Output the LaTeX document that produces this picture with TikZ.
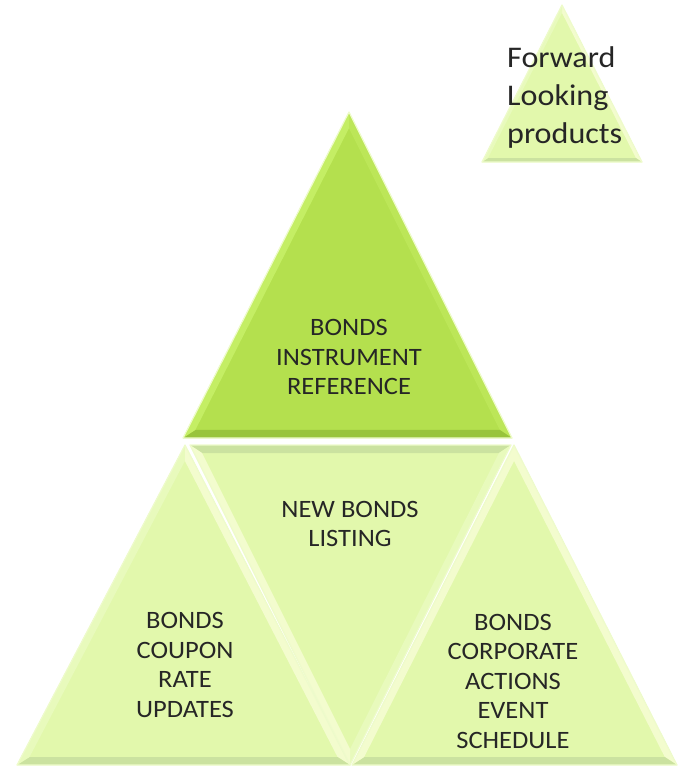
\documentclass[tikz,border=0pt]{standalone}
\usepackage{fontspec}
\setmainfont{Carlito}
\usetikzlibrary{calc}
\definecolor{txt}{HTML}{262626}
\definecolor{topbase}{HTML}{B4E04E}
\definecolor{topL}{HTML}{C4EE64}
\definecolor{topR}{HTML}{BCE658}
\definecolor{topB}{HTML}{98C43C}
\definecolor{lbase}{HTML}{E2F8AC}
\definecolor{lightF}{HTML}{F3FCCE}
\definecolor{midF}{HTML}{E8FABC}
\definecolor{darkF}{HTML}{CBE2A0}
\definecolor{rimc}{HTML}{EEFBCB}
\newcommand\bevtri[7]{%
  \coordinate (G) at (barycentric cs:#1=1,#2=1,#3=1);
  \coordinate (i1) at ($(#1)!0.075!(G)$);
  \coordinate (i2) at ($(#2)!0.075!(G)$);
  \coordinate (i3) at ($(#3)!0.075!(G)$);
  \fill[#4] (#1) -- (#2) -- (#3) -- cycle;
  \fill[#5] (#1) -- (#2) -- (i2) -- (i1) -- cycle;
  \fill[#6] (#2) -- (#3) -- (i3) -- (i2) -- cycle;
  \fill[#7] (#3) -- (#1) -- (i1) -- (i3) -- cycle;
  \draw[rimc, line width=1.2pt, line join=round] (#1) -- (#2) -- (#3) -- cycle;
}
\newfontfamily\lblfont[FakeStretch=1.06]{Carlito}
\newfontfamily\fwdfont[FakeStretch=1.07]{Carlito}
\tikzset{
  lbl/.style={text=txt, align=center, font=\lblfont\fontsize{25}{29.5}\selectfont, inner sep=0pt},
  fwd/.style={text=txt, align=left, font=\fwdfont\fontsize{30}{38}\selectfont, inner sep=0pt, anchor=west}
}
\begin{document}
\begin{tikzpicture}[x=1pt,y=-1pt]
\useasboundingbox (0,0) rectangle (681,772);
% small triangle
\coordinate (S1) at (562,5);
\coordinate (S2) at (642,162);
\coordinate (S3) at (482,162);
\bevtri{S1}{S2}{S3}{lbase}{lightF}{darkF}{midF}
% top triangle
\coordinate (T1) at (349,112);
\coordinate (T2) at (512,438);
\coordinate (T3) at (183,438);
\bevtri{T1}{T2}{T3}{topbase}{topR}{topB}{topL}
% bottom left
\coordinate (L1) at (185,445);
\coordinate (L2) at (350,765);
\coordinate (L3) at (17,765);
\bevtri{L1}{L2}{L3}{lbase}{lightF}{darkF}{midF}
% middle inverted
\coordinate (M1) at (190,445);
\coordinate (M2) at (511,445);
\coordinate (M3) at (350,765);
\bevtri{M1}{M2}{M3}{lbase}{darkF}{midF}{lightF}
% bottom right
\coordinate (R1) at (514,445);
\coordinate (R2) at (677,765);
\coordinate (R3) at (352,765);
\bevtri{R1}{R2}{R3}{lbase}{lightF}{darkF}{lightF}
% texts
\node[fwd] (fw) at (507,97) {Forward\\Looking\\products};
\node[lbl] (top) at (349,357) {BONDS\\INSTRUMENT\\REFERENCE};
\node[lbl] (mid) at (350,524) {NEW BONDS\\LISTING};
\node[lbl] (left) at (185,665) {BONDS\\COUPON\\RATE\\UPDATES};
\node[lbl] (right) at (513,681) {BONDS\\CORPORATE\\ACTIONS\\EVENT\\SCHEDULE};
\end{tikzpicture}
\end{document}
